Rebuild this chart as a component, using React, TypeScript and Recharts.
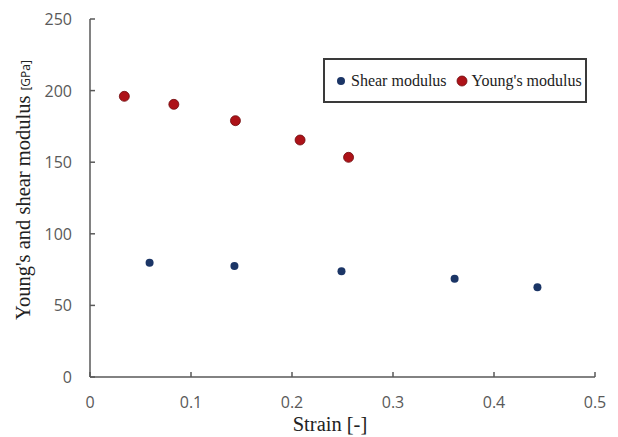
import React from 'react';
import {
    ScatterChart,
    Scatter,
    XAxis,
    YAxis,
} from 'recharts';

const shearStrain = [0.059, 0.143, 0.249, 0.361, 0.443];
const shearModulus = [79.8, 77.5, 73.8, 68.6, 62.6];
const youngStrain = [0.034, 0.083, 0.144, 0.208, 0.256];
const youngModulus = [196, 190.4, 179, 165.5, 153.4];
const xTicks = [0, 0.1, 0.2, 0.3, 0.4, 0.5];
const yTicks = [0, 50, 100, 150, 200, 250];

const shearData = shearStrain.map((x, i) => ({ x, y: shearModulus[i] }));
const youngData = youngStrain.map((x, i) => ({ x, y: youngModulus[i] }));

const AXIS = '#595959';
const TICK_TEXT = '#595959';
const SERIF = '"Liberation Serif", "DejaVu Serif", serif';
const SANS = '"Open Sans", "Liberation Sans", sans-serif';
const BLUE = '#1b3566';
const RED = '#ad1218';

const XTick = (props: any) => {
    const { x, y, payload } = props;
    return (
        <g>
            <line x1={x} x2={x} y1={y} y2={y - 5} stroke={AXIS} strokeWidth={1.5} />
            <text x={x} y={y + 31} textAnchor="middle" fill={TICK_TEXT} fontSize={16} fontFamily={SANS}>
                {payload.value}
            </text>
        </g>
    );
};

const YTick = (props: any) => {
    const { x, y, payload } = props;
    return (
        <g>
            <line x1={x} x2={x + 5} y1={y} y2={y} stroke={AXIS} strokeWidth={1.5} />
            <text x={x - 18} y={y + 6} textAnchor="end" fill={TICK_TEXT} fontSize={16} fontFamily={SANS}>
                {payload.value}
            </text>
        </g>
    );
};

// legend drawn as a plain box so it does not push the plot area down
const LegendBox = () => (
    <div
        style={{
            position: 'absolute',
            left: 323,
            top: 58,
            border: '2px solid #3a3a3a',
            width: 264,
            height: 45,
            boxSizing: 'border-box',
            display: 'flex',
            alignItems: 'center',
            paddingLeft: 11,
            fontFamily: SERIF,
            fontSize: 16,
            color: '#222',
            background: '#fff',
            whiteSpace: 'nowrap',
        }}
    >
        <svg width={10} height={10} style={{ marginRight: 5, flexShrink: 0 }}>
            <circle cx={5} cy={5} r={4} fill={BLUE} />
        </svg>
        <span style={{ marginRight: 9, flexShrink: 0 }}>Shear modulus</span>
        <svg width={12} height={12} style={{ marginRight: 4, flexShrink: 0 }}>
            <circle cx={6} cy={6} r={5} fill={RED} stroke="#6e0b0e" strokeWidth={0.8} />
        </svg>
        <span style={{ flexShrink: 0 }}>Young's modulus</span>
    </div>
);

export default function App() {
    return (
        <div style={{ position: 'absolute', left: 0, top: 0, width: 618, height: 437, background: '#fff' }}>
            <ScatterChart width={618} height={437} margin={{ top: 19, right: 23, left: 30, bottom: 30 }}>
                <XAxis
                    type="number"
                    dataKey="x"
                    domain={[0, 0.5]}
                    ticks={xTicks}
                    height={30}
                    axisLine={{ stroke: AXIS, strokeWidth: 1.5 }}
                    tickLine={false}
                    tickSize={0}
                    tickMargin={0}
                    tick={<XTick />}
                    interval={0}
                    label={() => (
                        <text x={330} y={431} textAnchor="middle" fill="#222" fontSize={20.5} fontFamily={SERIF}>
                            Strain [-]
                        </text>
                    )}
                />
                <YAxis
                    type="number"
                    dataKey="y"
                    domain={[0, 250]}
                    ticks={yTicks}
                    width={60}
                    axisLine={{ stroke: AXIS, strokeWidth: 1.5 }}
                    tickLine={false}
                    tickSize={0}
                    tickMargin={0}
                    tick={<YTick />}
                    interval={0}
                    label={() => {
                        const cx = 30;
                        const cy = 190;
                        return (
                            <text
                                x={cx}
                                y={cy}
                                transform={`rotate(-90, ${cx}, ${cy})`}
                                textAnchor="middle"
                                fill="#222"
                                fontSize={20.5}
                                fontFamily={SERIF}
                            >
                                Young's and shear modulus
                                <tspan fontSize={12} fontFamily={SANS} dx={5}>[GPa]</tspan>
                            </text>
                        );
                    }}
                />
                <Scatter
                    name="Shear modulus"
                    data={shearData}
                    fill={BLUE}
                    isAnimationActive={false}
                    shape={(p: any) => <circle cx={p.cx} cy={p.cy} r={4} fill={BLUE} />}
                />
                <Scatter
                    name="Young's modulus"
                    data={youngData}
                    fill={RED}
                    isAnimationActive={false}
                    shape={(p: any) => (
                        <circle cx={p.cx} cy={p.cy} r={5} fill={RED} stroke="#6e0b0e" strokeWidth={0.8} />
                    )}
                />
            </ScatterChart>
            <LegendBox />
        </div>
    );
}
